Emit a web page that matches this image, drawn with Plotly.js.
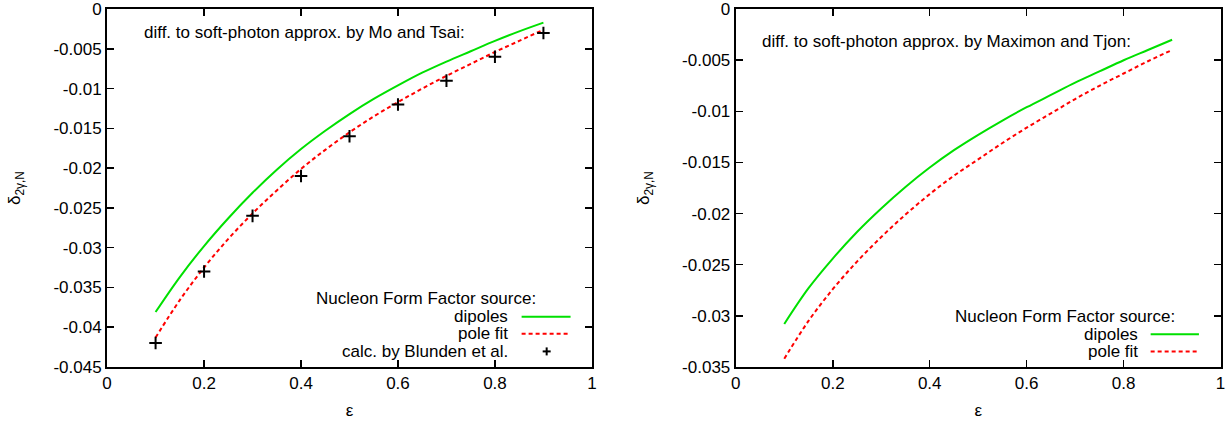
<!DOCTYPE html>
<html>
<head>
<meta charset="utf-8">
<script src="https://cdn.plot.ly/plotly-3.0.1.min.js"></script>
<style>html,body{margin:0;padding:0;background:#fff;}#chart{width:1231px;height:421px;}</style>
</head>
<body>
<div id="chart"></div>
<script>
// ---- data ----
const epsCurve = [0.1, 0.15, 0.2, 0.25, 0.3, 0.35, 0.4, 0.45, 0.5, 0.55, 0.6, 0.65, 0.7, 0.75, 0.8, 0.85, 0.9];
// left panel: difference to soft-photon approx. by Mo and Tsai
const moTsaiDipoles = [-0.0381, -0.0337, -0.0298, -0.0263, -0.0231, -0.0202, -0.0176, -0.0153, -0.0132, -0.0113, -0.0096, -0.0080, -0.0066, -0.0053, -0.0040, -0.0028, -0.0017];
const moTsaiPoleFit = [-0.0413, -0.0366, -0.0325, -0.0289, -0.0257, -0.0228, -0.0201, -0.0177, -0.0155, -0.0135, -0.0117, -0.0100, -0.0084, -0.0069, -0.0054, -0.0040, -0.0026];
const epsBlunden = [0.1, 0.2, 0.3, 0.4, 0.5, 0.6, 0.7, 0.8, 0.9];
const blundenValues = [-0.042, -0.033, -0.026, -0.021, -0.016, -0.012, -0.009, -0.006, -0.003];
// right panel: difference to soft-photon approx. by Maximon and Tjon
const maxTjonDipoles = [-0.0308, -0.0273, -0.0244, -0.0218, -0.0195, -0.0174, -0.0155, -0.0138, -0.0123, -0.0109, -0.0096, -0.0084, -0.0072, -0.0061, -0.0050, -0.0040, -0.0030];
const maxTjonPoleFit = [-0.0342, -0.0305, -0.0274, -0.0247, -0.0223, -0.0201, -0.0181, -0.0163, -0.0147, -0.0131, -0.0116, -0.0102, -0.0088, -0.0075, -0.0063, -0.0051, -0.0040];

// tick labels
const xTickVals = [0, 0.2, 0.4, 0.6, 0.8, 1];
const xTickText = ['0', '0.2', '0.4', '0.6', '0.8', '1'];
const yTickValsL = [0, -0.005, -0.01, -0.015, -0.02, -0.025, -0.03, -0.035, -0.04, -0.045];
const yTickTextL = ['0', '-0.005', '-0.01', '-0.015', '-0.02', '-0.025', '-0.03', '-0.035', '-0.04', '-0.045'];
const yTickValsR = [0, -0.005, -0.01, -0.015, -0.02, -0.025, -0.03, -0.035];
const yTickTextR = ['0', '-0.005', '-0.01', '-0.015', '-0.02', '-0.025', '-0.03', '-0.035'];

// texts
const noteLeft = 'diff. to soft-photon approx. by Mo and Tsai:';
const noteRight = 'diff. to soft-photon approx. by Maximon and Tjon:';
const legendHeader = 'Nucleon Form Factor source:';
const legendNames = ['dipoles', 'pole fit', 'calc. by Blunden et al.'];

// ---- styling ----
const FONT = 'Liberation Sans, Arial, Helvetica, sans-serif';
const FS = 17;
const GREEN = '#00e000';
const RED = '#ff0000';

const traces = [
  {x: epsCurve, y: moTsaiDipoles, xaxis: 'x', yaxis: 'y', mode: 'lines',
   line: {color: GREEN, width: 2, shape: 'spline', smoothing: 1}, name: legendNames[0], showlegend: false},
  {x: epsCurve, y: moTsaiPoleFit, xaxis: 'x', yaxis: 'y', mode: 'lines',
   line: {color: RED, width: 2, dash: '4px,3px', shape: 'spline', smoothing: 1}, name: legendNames[1], showlegend: false},
  {x: epsBlunden, y: blundenValues, xaxis: 'x', yaxis: 'y', mode: 'markers',
   marker: {symbol: 'cross-thin', size: 9, color: '#000', line: {color: '#000', width: 2}}, name: legendNames[2], showlegend: false},
  {x: epsCurve, y: maxTjonDipoles, xaxis: 'x2', yaxis: 'y2', mode: 'lines',
   line: {color: GREEN, width: 2, shape: 'spline', smoothing: 1}, name: legendNames[0], showlegend: false},
  {x: epsCurve, y: maxTjonPoleFit, xaxis: 'x2', yaxis: 'y2', mode: 'lines',
   line: {color: RED, width: 2, dash: '4px,3px', shape: 'spline', smoothing: 1}, name: legendNames[1], showlegend: false}
];

function xAxis(domain, anchor) {
  return {
    domain: domain, anchor: anchor, range: [-0.0002, 1.0002],
    tickmode: 'array', tickvals: xTickVals, ticktext: xTickText,
    ticks: 'inside', ticklen: 7, tickwidth: 1.5, tickcolor: '#000',
    showline: true, linecolor: '#000', linewidth: 2, mirror: 'ticks',
    showgrid: false, zeroline: false,
    tickfont: {family: FONT, size: FS, color: '#000'},
    title: {text: 'ε', font: {family: FONT, size: FS, color: '#000'}, standoff: 12}
  };
}
function yAxis(domain, anchor, range, vals, text) {
  return {
    domain: domain, anchor: anchor, range: range,
    tickmode: 'array', tickvals: vals, ticktext: text,
    ticks: 'inside', ticklen: 7, tickwidth: 1.5, tickcolor: '#000',
    showline: true, linecolor: '#000', linewidth: 2, mirror: 'ticks',
    showgrid: false, zeroline: false,
    tickfont: {family: FONT, size: FS, color: '#000'},
    title: {text: 'δ<sub>2γ,N</sub>', font: {family: FONT, size: FS, color: '#000'}, standoff: 28}
  };
}

const W = 1231, H = 421;
const yDom = [54 / H, 412 / H];

const annotations = [];
const shapes = [];
function txt(xref, yref, x, y, text, anchor) {
  annotations.push({xref: xref, yref: yref, x: x, y: y, text: text, showarrow: false,
    xanchor: anchor, yanchor: 'middle', font: {family: FONT, size: FS, color: '#000'}});
}
txt('x', 'y', 0.0715, -0.0030, noteLeft, 'left');
txt('x2', 'y2', 0.050, -0.00313, noteRight, 'left');

// left legend
txt('x', 'y', 0.889, -0.03643, legendHeader, 'right');
txt('x', 'y', 0.832, -0.03869, legendNames[0], 'right');
txt('x', 'y', 0.832, -0.04083, legendNames[1], 'right');
txt('x', 'y', 0.832, -0.04305, legendNames[2], 'right');
shapes.push({type: 'line', xref: 'x', yref: 'y', x0: 0.855, x1: 0.956, y0: -0.03869, y1: -0.03869, line: {color: GREEN, width: 2}});
shapes.push({type: 'line', xref: 'x', yref: 'y', x0: 0.855, x1: 0.956, y0: -0.04083, y1: -0.04083, line: {color: RED, width: 2, dash: '4px,3px'}});
shapes.push({type: 'line', xref: 'x', yref: 'y', xsizemode: 'pixel', ysizemode: 'pixel', xanchor: 0.9067, yanchor: -0.04305,
  x0: -4, x1: 4, y0: 0, y1: 0, line: {color: '#000', width: 2}});
shapes.push({type: 'line', xref: 'x', yref: 'y', xsizemode: 'pixel', ysizemode: 'pixel', xanchor: 0.9067, yanchor: -0.04305,
  x0: 0, x1: 0, y0: -4, y1: 4, line: {color: '#000', width: 2}});

// right legend
txt('x2', 'y2', 0.910, -0.03008, legendHeader, 'right');
txt('x2', 'y2', 0.8336, -0.0318, legendNames[0], 'right');
txt('x2', 'y2', 0.8336, -0.0335, legendNames[1], 'right');
shapes.push({type: 'line', xref: 'x2', yref: 'y2', x0: 0.8557, x1: 0.9553, y0: -0.0318, y1: -0.0318, line: {color: GREEN, width: 2}});
shapes.push({type: 'line', xref: 'x2', yref: 'y2', x0: 0.8557, x1: 0.9553, y0: -0.0335, y1: -0.0335, line: {color: RED, width: 2, dash: '4px,3px'}});

const layout = {
  width: W, height: H,
  margin: {l: 0, r: 0, t: 0, b: 0},
  paper_bgcolor: '#fff', plot_bgcolor: '#fff',
  showlegend: false,
  font: {family: FONT, size: FS, color: '#000'},
  xaxis: xAxis([107 / W, 592 / W], 'y'),
  yaxis: yAxis(yDom, 'x', [-0.04501, 0.00001], yTickValsL, yTickTextL),
  xaxis2: xAxis([735.7 / W, 1220.7 / W], 'y2'),
  yaxis2: yAxis(yDom, 'x2', [-0.03501, 0.00001], yTickValsR, yTickTextR),
  annotations: annotations,
  shapes: shapes
};

Plotly.newPlot('chart', traces, layout, {staticPlot: true, displayModeBar: false});
</script>
</body>
</html>
